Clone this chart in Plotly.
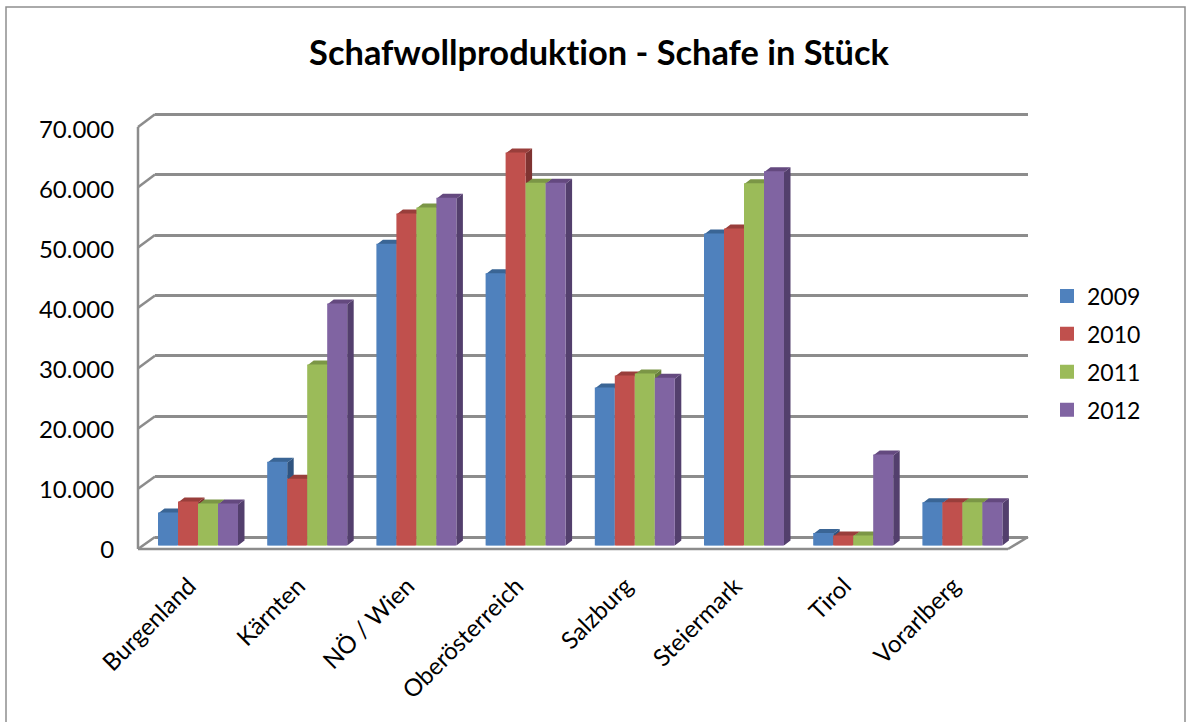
import plotly.graph_objects as go

categories = ["Burgenland", "Kärnten", "NÖ / Wien", "Oberösterreich", "Salzburg", "Steiermark", "Tirol", "Vorarlberg"]
years = ["2009", "2010", "2011", "2012"]
v2009 = [5300, 13700, 49800, 44900, 26000, 51500, 1900, 7000]
v2010 = [7100, 10900, 54800, 64900, 28000, 52300, 1500, 7000]
v2011 = [6800, 29800, 55800, 59900, 28300, 59800, 1500, 7000]
v2012 = [6800, 39900, 57400, 59900, 27600, 61800, 14900, 7000]
series = [v2009, v2010, v2011, v2012]
front = ["#4F81BD", "#C0504D", "#9BBB59", "#8064A2"]
top = ["#3A6595", "#993E3B", "#7B9646", "#64497F"]
side = ["#2F5480", "#7F3331", "#677E3B", "#533F6D"]
ticks = [0, 10000, 20000, 30000, 40000, 50000, 60000, 70000]

W, H = 1191, 722
PERIOD = 109.2
BAR_PX = 20
SCALE = 60.4 / 10000
DX = 6.5 / PERIOD
DY = 5 / SCALE
BW = BAR_PX / PERIOD

def fx(p):
    return p / W

def fy(p):
    return 1 - p / H

XR = [-0.5, 7.5]
XDOM = [fx(143.4), fx(143.4 + 8 * PERIOD)]
XLAB = [fx(143.4 - 9), fx(143.4 - 9 + 8 * PERIOD)]
YTOP = 70000 * SCALE
BASE = 545.5
PAD = 1000  # keeps the first and last back wall lines inside the axis range
fig = go.Figure()

# keeps the back wall subplot alive
fig.add_trace(go.Scatter(x=[None], y=[None], xaxis="x", yaxis="y", showlegend=False, hoverinfo="skip"))

# depth faces, drawn below the front faces
for s, vals in enumerate(series):
    off = (s - 2) * BW
    sx, sy, tx, ty = [], [], [], []
    for i, v in enumerate(vals):
        a = i + off
        b = a + BW
        sx += [b, b + DX, b + DX, b, None]
        sy += [0, DY, v + DY, v, None]
        tx += [a, a + DX, b + DX, b, None]
        ty += [v, v + DY, v + DY, v, None]
    for xs, ys, col in ((sx, sy, side[s]), (tx, ty, top[s])):
        fig.add_trace(go.Scatter(x=xs, y=ys, mode="lines", fill="toself", fillcolor=col,
                                 line=dict(width=0, color=col), hoverinfo="skip",
                                 showlegend=False, xaxis="x2", yaxis="y2"))

for s, vals in enumerate(series):
    fig.add_trace(go.Bar(x=list(range(8)), y=vals, name=years[s], width=BW - 2 / PERIOD,
                         offset=(s - 2) * BW + 1 / PERIOD,
                         marker=dict(color=front[s], line=dict(color=front[s], width=2)),
                         legendgroup=years[s], xaxis="x3", yaxis="y3"))

hidden = dict(visible=False, fixedrange=True)
shapes = []
GREY = "#8C8C8C"

def seg(x0, y0, x1, y1):
    shapes.append(dict(type="line", xref="paper", yref="paper", x0=fx(x0), y0=fy(y0), x1=fx(x1), y1=fy(y1),
                       line=dict(color=GREY, width=2.5), layer="below"))

# chart frame
shapes.append(dict(type="rect", xref="paper", yref="paper", x0=fx(6), y0=-0.1, x1=fx(1185), y1=fy(7),
                   line=dict(color="#8E8E8E", width=1.5), layer="below"))
# wall edges
seg(138, 127, 138, 549)
seg(138, 549, 1008, 549)
seg(1008, 549, 1028, 537)
for t in ticks:
    seg(138, 549 - t * (422 / 70000), 155, 537 - t * SCALE)

fig.update_layout(
    width=W, height=H, margin=dict(l=0, r=0, t=0, b=0, autoexpand=False), paper_bgcolor="white",
    plot_bgcolor="rgba(0,0,0,0)",
    font=dict(family="Lato", size=24, color="black"), separators=",.", barmode="overlay", shapes=shapes,
    title=dict(text="<b>Schafwollproduktion - Schafe in Stück</b>", x=fx(599), xanchor="center", y=fy(53),
               yanchor="middle", font=dict(size=34.4, family="Lato")),
    legend=dict(x=fx(1047), xanchor="left", y=fy(353), yanchor="middle", tracegroupgap=5,
                bgcolor="rgba(0,0,0,0)", font=dict(size=23)),
    # back wall grid
    xaxis=dict(domain=[fx(155), fx(1028)], range=[0, 1], visible=False, fixedrange=True, anchor="y"),
    yaxis=dict(domain=[fy(537 + PAD * SCALE), fy(537 - YTOP - PAD * SCALE)], range=[-PAD, 70000 + PAD],
               tickvals=ticks, showgrid=True, gridcolor=GREY, gridwidth=2.5, showticklabels=False, ticks="",
               zeroline=False, showline=False, fixedrange=True, anchor="x"),
    # depth faces
    xaxis2=dict(domain=XDOM, range=XR, anchor="y2", **hidden),
    yaxis2=dict(domain=[fy(BASE), fy(BASE - YTOP)], range=[0, 70000], anchor="x2", **hidden),
    # front faces
    xaxis3=dict(domain=XDOM, range=XR, anchor="y3", **hidden),
    yaxis3=dict(domain=[fy(BASE), fy(BASE - YTOP)], range=[0, 70000], anchor="x3", **hidden),
    # category and value labels
    xaxis4=dict(domain=XLAB, range=XR, anchor="y4", tickvals=list(range(8)), ticktext=categories, tickangle=-45,
                ticks="outside", ticklen=12, tickcolor="rgba(0,0,0,0)", showgrid=False, zeroline=False,
                showline=False, fixedrange=True),
    yaxis4=dict(domain=[fy(549.5), fy(129.5)], range=[0, 70000], anchor="free", position=fx(138), side="left",
                tickvals=ticks, tickformat=",d", ticks="outside", ticklen=19, tickwidth=1,
                tickcolor="rgba(0,0,0,0)", showgrid=False, zeroline=False, showline=False, fixedrange=True),
)
fig.add_trace(go.Scatter(x=[None], y=[None], xaxis="x4", yaxis="y4", showlegend=False, hoverinfo="skip"))
fig.write_html("out.html", config=dict(displayModeBar=False),
               post_script="document.body.style.margin='0';document.documentElement.style.overflow='hidden';"
                           "var noLig=function(){document.querySelectorAll('text').forEach(function(t){"
                           "t.style.fontVariantLigatures='none';});};noLig();setTimeout(noLig,50);")
